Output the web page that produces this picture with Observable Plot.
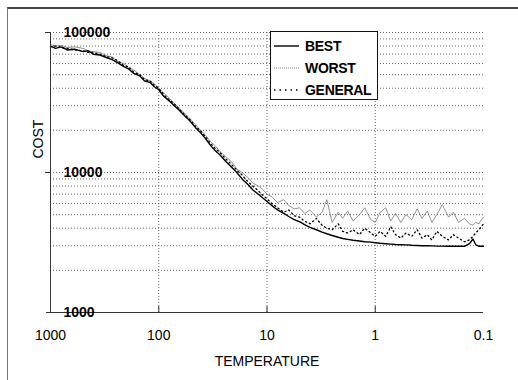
<!DOCTYPE html>
<html>
<head>
<meta charset="utf-8">
<script src="https://cdn.jsdelivr.net/npm/d3@7"></script>
<script src="https://cdn.jsdelivr.net/npm/@observablehq/plot@0.6"></script>
<style>
  html, body { margin: 0; padding: 0; background: #fff; }
  #wrap { position: relative; width: 518px; height: 380px; overflow: hidden; font-family: "Liberation Sans", Arial, sans-serif; }
  #border { position: absolute; left: 7px; top: 7px; width: 600px; height: 500px; border-left: 1px solid #777; border-top: 2px solid #444; }
  #legend { position: absolute; left: 270px; top: 31px; width: 106px; height: 67px; border: 1px solid #111; background: #fff; }
  .row { position: absolute; left: 3px; height: 18px; display: flex; align-items: center; font-weight: bold; font-size: 14px; color: #000; letter-spacing: -0.3px; }
  .row svg { margin-right: 6px; }
</style>
</head>
<body>
<div id="wrap">
  <div id="border"></div>
  <div id="chart" style="position:absolute;left:0;top:0;"></div>
  <div id="legend"></div>
</div>
<script>
const temperature = [1000, 900, 800, 700, 600, 500, 450, 400, 350, 300, 270, 240, 210, 190, 170, 150, 135, 120, 110, 100,
  90, 80, 72, 65, 58, 52, 46, 41, 37, 33, 30, 27, 24, 21, 19, 17, 15, 13.5, 12, 11, 10,
  9, 8, 7, 6.3, 5.6, 5, 4.5, 4, 3.5, 3.1, 2.8, 2.5, 2.2, 2, 1.8, 1.6, 1.4, 1.25, 1.1, 1,
  0.9, 0.8, 0.72, 0.65, 0.58, 0.52, 0.46, 0.41, 0.37, 0.33, 0.3, 0.27, 0.24, 0.21, 0.19, 0.17, 0.15, 0.135, 0.125, 0.118, 0.11, 0.105, 0.1];

const best = [80000, 77000, 79000, 75000, 76000, 73000, 74000, 70000, 69000, 66000, 64000, 61000, 57000, 55000, 51000, 49000, 45000, 44000, 41000, 39000,
  35000, 32500, 30000, 28000, 25500, 23500, 21000, 19200, 17500, 15500, 14300, 13300, 12000, 10800, 10000, 9000, 8200, 7500, 7000, 6600, 6200,
  5800, 5400, 5100, 4850, 4600, 4450, 4250, 4050, 3900, 3750, 3650, 3550, 3450, 3380, 3330, 3280, 3240, 3200, 3180, 3150,
  3120, 3100, 3080, 3060, 3050, 3040, 3020, 3010, 3000, 3000, 2990, 2980, 2980, 2970, 2970, 2970, 2970, 3100, 3350, 3050, 2970, 2970, 2970];

const worst = [82000, 80000, 81000, 78000, 79000, 77000, 74000, 73000, 72000, 68000, 67000, 62000, 60000, 56000, 54000, 50000, 47000, 45000, 43000, 40000,
  37000, 34000, 31000, 29000, 26500, 24500, 22000, 20000, 18500, 16500, 15500, 14000, 13000, 11800, 10600, 10000, 9200, 8400, 8000, 7600, 7000,
  6700, 6100, 6400, 5800, 5500, 5600, 5100, 5400, 4800, 5200, 6400, 4400, 5200, 4700, 5300, 4500, 5000, 5600, 4600, 4400,
  5200, 5600, 4500, 5100, 4400, 5000, 4600, 5500, 4700, 5300, 4400, 5000, 5900, 4800, 5200, 4400, 4700, 4300, 4200, 4400, 4300, 4600, 4800];

const general = [79000, 80000, 78000, 77000, 75000, 74000, 72000, 72000, 70000, 67000, 66000, 63000, 58000, 57000, 52000, 50000, 46000, 45000, 42000, 40000,
  36000, 33000, 31000, 28500, 26000, 24000, 21500, 19800, 18000, 16000, 14800, 13800, 12500, 11300, 10400, 9600, 8600, 8000, 7400, 6900, 6500,
  6000, 5600, 5200, 5400, 4900, 4800, 4500, 4300, 4700, 4200, 4000, 3900, 4300, 3800, 3700, 3900, 3600, 4000, 3700, 3500,
  3800, 3500, 4100, 3600, 3400, 3700, 3500, 3900, 3400, 3600, 3300, 3800, 3500, 3300, 3600, 3400, 3200, 3300, 3500, 3700, 3900, 4100, 4300];

const xTicks = [1000, 100, 10, 1, 0.1];
const xTickLabels = ["1000", "100", "10", "1", "0.1"];
const yTicks = [1000, 10000, 100000];
const yTickLabels = ["1000", "10000", "100000"];
const yGrid = [2000, 3000, 4000, 5000, 6000, 7000, 8000, 9000, 10000, 20000, 30000, 40000, 50000, 60000, 70000, 80000, 90000, 100000];
const xGrid = [100, 10, 1];
const seriesNames = ["BEST", "WORST", "GENERAL"];

const rows = temperature.map((t, i) => ({t, best: best[i], worst: worst[i], general: general[i]}));
const font = "Liberation Sans, Arial, sans-serif";

const chart = Plot.plot({
  width: 518,
  height: 380,
  marginLeft: 50,
  marginRight: 35,
  marginTop: 32,
  marginBottom: 68,
  style: {fontFamily: font, fontSize: "14px", color: "#000", background: "transparent"},
  x: {type: "log", domain: [1000, 0.1], axis: null},
  y: {type: "log", domain: [1000, 100000], label: null},
  marks: [
    Plot.ruleY(yGrid, {stroke: "#555", strokeWidth: 0.9, strokeDasharray: "1,2"}),
    Plot.ruleX(xGrid, {stroke: "#555", strokeWidth: 0.9, strokeDasharray: "1,2"}),
    Plot.line(rows, {x: "t", y: "worst", stroke: "#777", strokeWidth: 0.8}),
    Plot.line(rows, {x: "t", y: "general", stroke: "#000", strokeWidth: 1.3, strokeDasharray: "1.2,3"}),
    Plot.line(rows, {x: "t", y: "best", stroke: "#000", strokeWidth: 1.4}),
    Plot.ruleY([1000], {stroke: "#333", strokeWidth: 1.2, insetLeft: -4}),
    Plot.ruleX([1000], {stroke: "#333", strokeWidth: 1}),
    Plot.axisY({ticks: [10000, 100000], tickSize: 5, tickFormat: () => "", stroke: "#333", label: null}),
    Plot.ruleX(xGrid, {y1: 1000, y2: 1000, insetTop: -6, stroke: "#333", strokeWidth: 1}),
    Plot.text(xTicks, {x: d => d, text: (d, i) => xTickLabels[i], frameAnchor: "bottom", dy: 27, fontSize: 14}),
    Plot.text(yTicks, {y: d => d, text: (d, i) => yTickLabels[i], frameAnchor: "left", textAnchor: "start", dx: 13, fontSize: 14, fontWeight: "bold"}),
    Plot.text(["TEMPERATURE"], {frameAnchor: "bottom", dy: 53, fontSize: 14}),
    Plot.text(["COST"], {frameAnchor: "left", dx: -12, dy: -14, rotate: -90, fontSize: 14})
  ]
});
document.getElementById("chart").appendChild(chart);

// legend
const legend = document.getElementById("legend");
const styles = [
  {stroke: "#000", width: 1.4, dash: ""},
  {stroke: "#777", width: 0.9, dash: "1,1"},
  {stroke: "#000", width: 1.4, dash: "1.5,4"}
];
seriesNames.forEach((name, i) => {
  const row = document.createElement("div");
  row.className = "row";
  row.style.top = (5 + i * 22) + "px";
  const s = styles[i];
  row.innerHTML = `<svg width="25" height="10"><line x1="0" x2="25" y1="5" y2="5" stroke="${s.stroke}" stroke-width="${s.width}" ${s.dash ? `stroke-dasharray="${s.dash}"` : ""}/></svg><span>${name}</span>`;
  legend.appendChild(row);
});
</script>
</body>
</html>
